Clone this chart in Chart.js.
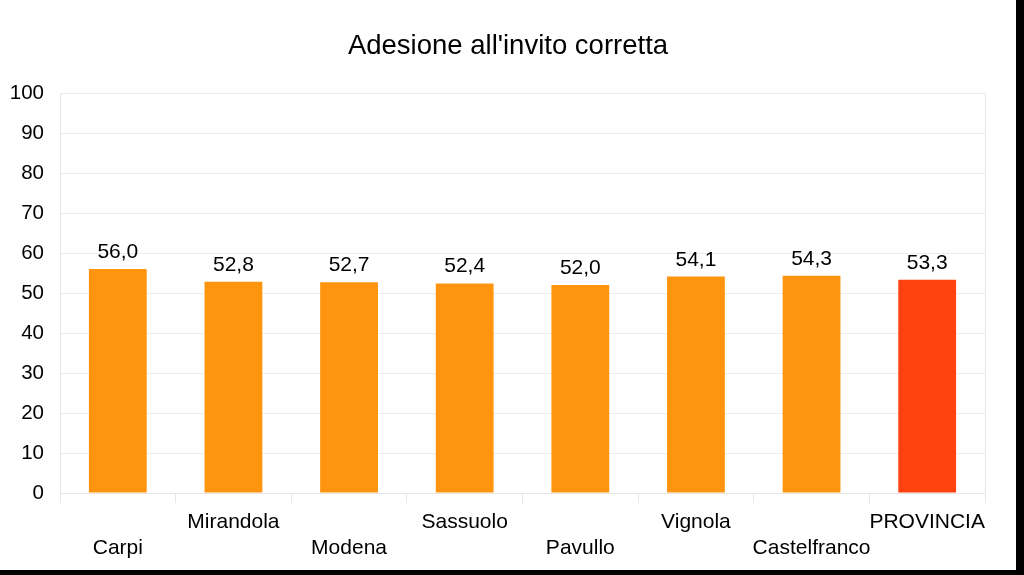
<!DOCTYPE html>
<html>
<head>
<meta charset="utf-8">
<script src="https://cdn.jsdelivr.net/npm/chart.js@4/dist/chart.umd.min.js"></script>
<style>
  html, body { margin: 0; padding: 0; background: #000; }
  #wrap { width: 1016px; height: 570px; background: #fff; }
</style>
</head>
<body>
<div id="wrap"><canvas id="grafico" width="1016" height="570"></canvas></div>
<script>
// Dati
const categorie = ['Carpi', 'Mirandola', 'Modena', 'Sassuolo', 'Pavullo', 'Vignola', 'Castelfranco', 'PROVINCIA'];
const valori = [56.0, 52.8, 52.7, 52.4, 52.0, 54.1, 54.3, 53.3];
const colori = ['#ff950e', '#ff950e', '#ff950e', '#ff950e', '#ff950e', '#ff950e', '#ff950e', '#ff420e'];

const FONT = '"Liberation Sans", Arial, sans-serif';

// Etichette valori sopra le barre
const etichetteValori = {
    id: 'etichetteValori',
    afterDatasetsDraw(chart) {
        const ctx = chart.ctx;
        const meta = chart.getDatasetMeta(0);
        ctx.save();
        ctx.font = '21px ' + FONT;
        ctx.fillStyle = '#000';
        ctx.textAlign = 'center';
        ctx.textBaseline = 'alphabetic';
        meta.data.forEach((bar, i) => {
            const testo = valori[i].toFixed(1).replace('.', ',');
            ctx.fillText(testo, bar.x, bar.y - 11);
        });
        ctx.restore();
    }
};

const ctx = document.getElementById('grafico').getContext('2d');
new Chart(ctx, {
    type: 'bar',
    data: {
        labels: categorie,
        datasets: [{
            data: valori,
            backgroundColor: colori,
            barPercentage: 1.0,
            categoryPercentage: 0.5
        }]
    },
    options: {
        responsive: false,
        animation: false,
        layout: { padding: 0 },
        plugins: {
            legend: { display: false },
            tooltip: { enabled: false },
            title: {
                display: true,
                text: "Adesione all'invito corretta",
                color: '#000',
                font: { family: FONT, size: 27.5, weight: 'normal' },
                padding: { top: 30, bottom: 30 }
            }
        },
        scales: {
            x: {
                afterFit: function(scale) { scale.height = 77; },
                grid: {
                    offset: true,
                    drawOnChartArea: false,
                    drawTicks: true,
                    tickLength: 10,
                    color: '#e6e6e6'
                },
                border: { color: '#e6e6e6' },
                ticks: {
                    color: '#000',
                    maxRotation: 0,
                    autoSkip: false,
                    padding: 6,
                    font: { family: FONT, size: 21, lineHeight: 1.25 },
                    callback: function(val, i) {
                        const nome = categorie[i];
                        return i % 2 === 0 ? ['', nome] : [nome, ''];
                    }
                }
            },
            y: {
                min: 0,
                max: 100,
                afterFit: function(scale) { scale.width = 60; },
                ticks: {
                    stepSize: 10,
                    color: '#000',
                    padding: 16,
                    font: { family: FONT, size: 20.5 }
                },
                grid: { color: '#ececec', drawTicks: false },
                border: { color: '#e6e6e6' }
            },
            // asse vuoto a destra: margine e bordo dell'area
            yDestra: {
                type: 'linear',
                position: 'right',
                min: 0,
                max: 100,
                afterFit: function(scale) { scale.width = 31; },
                ticks: { display: false },
                grid: { drawOnChartArea: false, drawTicks: false },
                border: { color: '#e6e6e6' }
            }
        }
    },
    plugins: [etichetteValori]
});
</script>
</body>
</html>
